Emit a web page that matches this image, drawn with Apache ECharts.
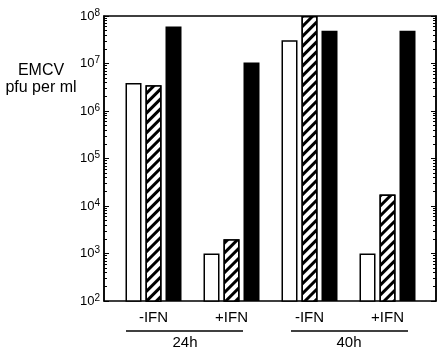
<!DOCTYPE html>
<html>
<head>
<meta charset="utf-8">
<script src="https://cdn.jsdelivr.net/npm/echarts@6/dist/echarts.min.js"></script>
<style>
  html, body { margin: 0; padding: 0; background: #fff; }
  #chart { width: 442px; height: 350px; }
</style>
</head>
<body>
<div id="chart"></div>
<script>
// groups along the x axis
const groups = ['-IFN', '+IFN', '-IFN', '+IFN'];
const timeLabels = ['24h', '40h'];

// EMCV titres (pfu per ml), one value per group
const whiteBars = [3.9e6, 1.0e3, 3.1e7, 1.0e3];
const hatchedBars = [3.5e6, 2.0e3, 1.0e8, 1.75e4];
const blackBars = [6.0e7, 1.05e7, 4.9e7, 4.9e7];

const FONT = "'Liberation Sans', Arial, sans-serif";

const dom = document.getElementById('chart');
const myChart = echarts.init(dom, null, { renderer: 'canvas' });

const logTicks = {
    type: 'log',
    logBase: 10,
    min: 100,
    max: 1e8,
    splitLine: { show: false },
    axisLine: { show: true, lineStyle: { color: '#000', width: 1.5 } },
    axisTick: { show: true, inside: true, length: 5, lineStyle: { color: '#000', width: 1 } },
    minorTick: { show: true, splitNumber: 9, length: 3, lineStyle: { color: '#000', width: 1 } }
};

const option = {
    animation: false,
    backgroundColor: '#fff',
    textStyle: { fontFamily: FONT },
    grid: [
        // frame with the log axes
        { left: 104, right: 6, top: 16, bottom: 49, show: true, borderColor: '#000', borderWidth: 1.5 },
        // bars
        { left: 114.5, right: 15.5, top: 16, bottom: 49 }
    ],
    xAxis: [
        { gridIndex: 0, type: 'value', show: false },
        {
            gridIndex: 1,
            type: 'category',
            data: groups,
            axisLine: { show: false },
            axisTick: { show: false },
            axisLabel: { color: '#000', fontSize: 15, fontFamily: FONT, margin: 9 }
        }
    ],
    yAxis: [
        Object.assign({}, logTicks, {
            gridIndex: 0,
            position: 'left',
            axisLabel: {
                margin: 4,
                color: '#000',
                fontSize: 13,
                formatter: function (v) {
                    return '{b|10}{s|' + Math.round(Math.log10(v)) + '}';
                },
                rich: {
                    b: { fontSize: 13, color: '#000', fontFamily: FONT, lineHeight: 16 },
                    s: { fontSize: 10, color: '#000', fontFamily: FONT, verticalAlign: 'top', lineHeight: 10, padding: [0, 0, 8, 0] }
                }
            }
        }),
        Object.assign({}, logTicks, {
            gridIndex: 0,
            position: 'right',
            axisLabel: { show: false }
        }),
        { gridIndex: 1, type: 'log', min: 100, max: 1e8, show: false }
    ],
    series: [
        {
            name: 'white',
            type: 'bar',
            xAxisIndex: 1,
            yAxisIndex: 2,
            data: whiteBars,
            barWidth: 16,
            barGap: '25%',
            itemStyle: { color: '#fff', borderColor: '#000', borderWidth: 1.5 }
        },
        {
            name: 'hatched',
            type: 'bar',
            xAxisIndex: 1,
            yAxisIndex: 2,
            data: hatchedBars,
            barWidth: 16,
            barGap: '25%',
            itemStyle: {
                color: '#fff',
                borderColor: '#000',
                borderWidth: 1.5,
                decal: {
                    symbol: 'rect',
                    symbolSize: 1,
                    dashArrayX: [1, 0],
                    dashArrayY: [3, 4],
                    rotation: -Math.PI / 4,
                    color: '#000',
                    backgroundColor: '#fff'
                }
            }
        },
        {
            name: 'black',
            type: 'bar',
            xAxisIndex: 1,
            yAxisIndex: 2,
            data: blackBars,
            barWidth: 16,
            barGap: '25%',
            itemStyle: { color: '#000' }
        }
    ],
    graphic: [
        {
            type: 'text',
            x: 41,
            y: 62,
            style: {
                text: 'EMCV\npfu per ml',
                font: '16px ' + FONT,
                fill: '#000',
                align: 'center',
                verticalAlign: 'top',
                lineHeight: 17
            }
        },
        { type: 'line', shape: { x1: 126, y1: 331, x2: 243, y2: 331 }, style: { stroke: '#000', lineWidth: 1.5 } },
        { type: 'line', shape: { x1: 291, y1: 331, x2: 408, y2: 331 }, style: { stroke: '#000', lineWidth: 1.5 } },
        {
            type: 'text', x: 185, y: 335,
            style: { text: timeLabels[0], font: '15px ' + FONT, fill: '#000', align: 'center' }
        },
        {
            type: 'text', x: 349, y: 335,
            style: { text: timeLabels[1], font: '15px ' + FONT, fill: '#000', align: 'center' }
        }
    ]
};

myChart.setOption(option);
</script>
</body>
</html>
